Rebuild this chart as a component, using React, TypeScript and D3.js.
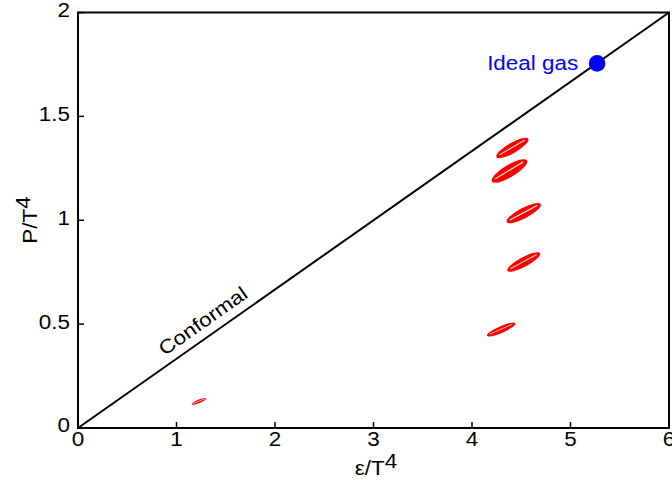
import React from "react";
import * as d3 from "d3";

const W = 672;
const H = 480;

const xTicks = [0, 1, 2, 3, 4, 5, 6];
const yTicks = [0, 0.5, 1, 1.5, 2];
const yTickLabels = ["0", "0.5", "1", "1.5", "2"];

// lattice results: centres and half-extent of the major axis, minor/major ratio
const epsC = [4.41, 4.38, 4.525, 4.525, 4.296, 1.227];
const pC = [1.348, 1.237, 1.034, 0.799, 0.474, 0.128];
const epsHalf = [0.162, 0.178, 0.173, 0.166, 0.144, 0.0726];
const pHalf = [0.0443, 0.0506, 0.0433, 0.042, 0.03, 0.0144];
const axisRatio = [0.28, 0.3, 0.27, 0.26, 0.22, 0.22];

const idealEps = 5.27;
const idealP = 1.755;

const conformalEps = [0, 6];

const SX = 1.15;
const FS = 19.5;

export default function App() {
  const left = 78, right = 669, top = 12.5, bottom = 428;
  const x = d3.scaleLinear().domain([0, 6]).range([left, right]);
  const y = d3.scaleLinear().domain([0, 2]).range([bottom, top]);
  const font = "'Liberation Sans', Arial, sans-serif";

  const line = d3
    .line<number>()
    .x((e) => x(e))
    .y((e) => y(e / 3));

  const angle = (Math.atan2(y(0) - y(2), x(6) - x(0)) * 180) / Math.PI;
  const confE = 1.36;
  const cx0 = x(confE), cy0 = y(confE / 3);
  const rad = (angle * Math.PI) / 180;
  const off = 9;
  const tx = cx0 - Math.sin(rad) * off;
  const ty = cy0 - Math.cos(rad) * off;

  const T = (
    px: number,
    py: number,
    content: React.ReactNode,
    anchor: string,
    extra: any = {},
    rot = 0
  ) => (
    <text
      transform={`translate(${px},${py}) rotate(${rot}) scale(${SX},1)`}
      textAnchor={anchor}
      fontFamily={font}
      fontSize={FS}
      {...extra}
    >
      {content}
    </text>
  );

  return (
    <svg
      width={W}
      height={H}
      style={{ position: "absolute", left: 0, top: 0, background: "#fff" }}
    >
      {/* ellipses */}
      {epsC.map((e, i) => {
        const cx = x(e), cy = y(pC[i]);
        const tx2 = x(e + epsHalf[i]), ty2 = y(pC[i] + pHalf[i]);
        const dx = tx2 - cx, dy = ty2 - cy;
        const a = Math.sqrt(dx * dx + dy * dy);
        const b = a * axisRatio[i];
        const ang = (Math.atan2(dy, dx) * 180) / Math.PI;
        return (
          <g key={i} transform={`translate(${cx},${cy}) rotate(${ang})`}>
            <ellipse rx={a} ry={b} fill="#ff0000" />
            <line
              x1={-0.8 * a}
              x2={0.8 * a}
              y1={-0.1 * b}
              y2={-0.1 * b}
              stroke="#fff"
              strokeWidth={Math.max(0.6, Math.min(1.1, b * 0.2))}
            />
          </g>
        );
      })}

      {/* conformal line */}
      <path d={line(conformalEps) || ""} stroke="#000" strokeWidth={2} fill="none" />
      {T(tx, ty, "Conformal", "middle", {}, -angle)}

      {/* ideal gas */}
      <circle cx={x(idealEps)} cy={y(idealP)} r={8.3} fill="#0000ff" />
      {T(x(idealEps) - 19, y(idealP) + 7, "Ideal gas", "end", { fill: "#0000ff" })}

      {/* frame */}
      <rect
        x={left}
        y={top}
        width={right - left}
        height={bottom - top}
        fill="none"
        stroke="#000"
        strokeWidth={2}
      />

      {/* x ticks */}
      {xTicks.map((t) => (
        <g key={t}>
          <line x1={x(t)} x2={x(t)} y1={bottom} y2={bottom - 6} stroke="#000" strokeWidth={1.5} />
          {T(x(t), bottom + 18, String(t), "middle")}
        </g>
      ))}

      {/* y ticks */}
      {yTicks.map((t, i) => (
        <g key={t}>
          <line x1={left} x2={left + 6} y1={y(t)} y2={y(t)} stroke="#000" strokeWidth={1.5} />
          {T(left - 8, y(t) + (i === 0 ? 4 : 4.5), yTickLabels[i], "end")}
        </g>
      ))}

      {/* axis labels */}
      {T(
        376,
        475,
        <>
          ε/T<tspan dy={-7}>4</tspan>
        </>,
        "middle"
      )}
      {T(
        37,
        220,
        <>
          P/T<tspan dy={-7}>4</tspan>
        </>,
        "middle",
        {},
        -90
      )}
    </svg>
  );
}
